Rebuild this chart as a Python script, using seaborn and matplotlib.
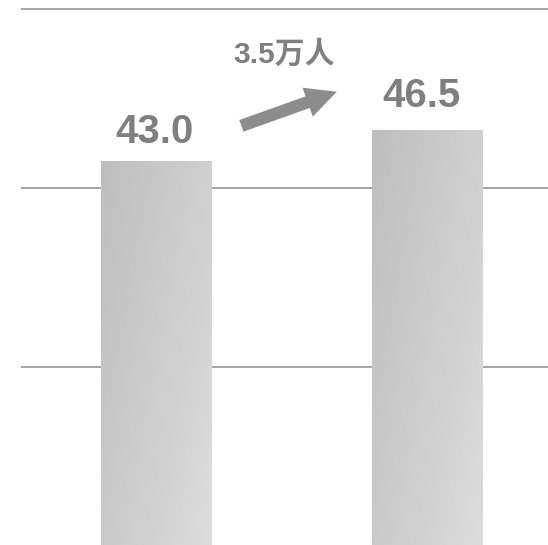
import numpy as np
import pandas as pd
import matplotlib
matplotlib.use("Agg")
import matplotlib.pyplot as plt
import seaborn as sns

# ---- data ----
categories = ["前", "后"]
values = [43.0, 46.5]
value_labels = ["43.0", "46.5"]
increase_label = "3.5万人"
grid_ticks = [20, 40, 60]

sns.set_theme(style="white")
plt.rcParams["font.family"] = ["Liberation Sans", "Noto Sans CJK SC", "DejaVu Sans"]

W, H, DPI = 548, 545, 100
fig = plt.figure(figsize=(W / DPI, H / DPI), dpi=DPI)
ax = fig.add_axes([21 / W, 0, 1 - 21 / W, 1])

df = pd.DataFrame({"cat": categories, "val": values})
sns.barplot(data=df, x="cat", y="val", ax=ax, width=0.406, color="#cccccc",
            saturation=1, edgecolor="none", zorder=2)

ax.set_xlim(-0.498, 1.446)
ax.set_ylim(0.15, 61.04)
ax.set_yticks(grid_ticks)
ax.yaxis.grid(True, color="#8c8c8c", linewidth=1.1, zorder=0)
ax.set_axisbelow(True)
ax.tick_params(left=False, bottom=False, labelleft=False, labelbottom=False)
ax.set_xlabel("")
ax.set_ylabel("")
for s in ax.spines.values():
    s.set_visible(False)

# gradient fill clipped to each bar
ny, nx = 200, 60
u = np.linspace(0, 1, nx)[None, :]
v = np.linspace(0, 1, ny)[:, None]
g = (190 + 18 * u + 12 * v) / 255.0
rgb = np.dstack([g, g, g])
for p in ax.patches:
    x0, y0 = p.get_x(), p.get_y()
    w, h = p.get_width(), p.get_height()
    im = ax.imshow(rgb, extent=[x0, x0 + w, y0, y0 + h], origin="upper",
                   aspect="auto", zorder=3, interpolation="bilinear")
    im.set_clip_path(p)
ax.set_xlim(-0.498, 1.446)
ax.set_ylim(0.15, 61.04)

# value labels
offsets = [(-1.1, 13.3), (-3.8, 16.4)]
for i, (val, lab) in enumerate(zip(values, value_labels)):
    ax.annotate(lab, xy=(i, val), xytext=offsets[i], textcoords="offset points",
                ha="center", va="baseline", fontsize=29, fontweight="bold",
                color="#7f7f7f", zorder=5)

# arrow + increase label
ax.annotate("", xy=(0.667, 50.79), xytext=(0.315, 46.98),
            arrowprops=dict(arrowstyle="simple,head_length=22.3,head_width=22.1,tail_width=8.9",
                            color="#8c8c8c", shrinkA=0, shrinkB=0, mutation_scale=1,
                            linewidth=0),
            zorder=5)
ax.text(0.472, 53.97, increase_label, ha="center", va="baseline", fontsize=21.5,
        fontweight="bold", color="#7f7f7f", zorder=5,
        family=["Liberation Sans", "Noto Sans CJK SC"])

fig.savefig("out.png", dpi=DPI)
